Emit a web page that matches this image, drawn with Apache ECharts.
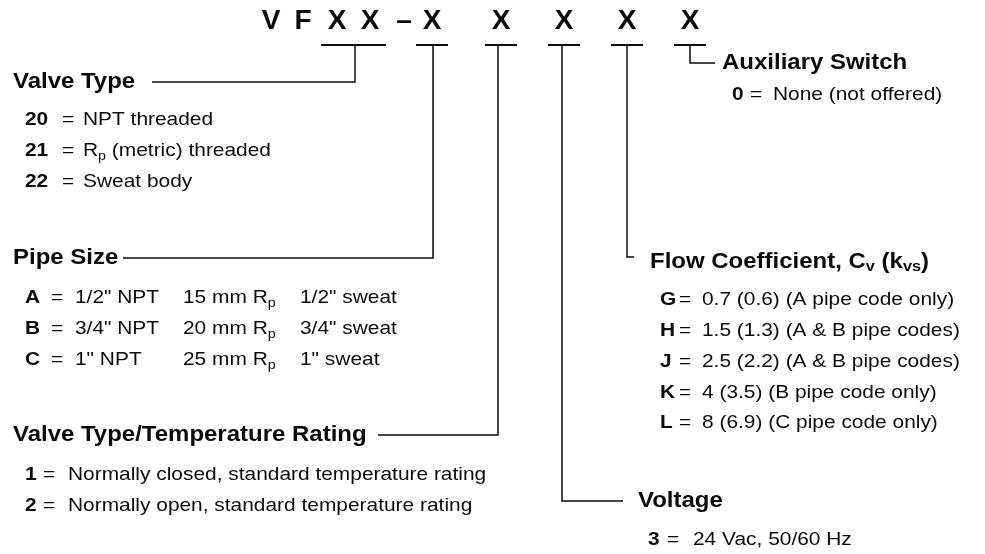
<!DOCTYPE html>
<html lang="en">
<head>
  <meta charset="UTF-8">
  <title>VFXX ordering code</title>
  <script src="https://cdn.jsdelivr.net/npm/echarts@6/dist/echarts.min.js"></script>
</head>
<body style="margin:0;background:#fff;">
  <div id="main" style="width:985px;height:554px;"></div>
  <script type="text/javascript">
    // characters of the part number
    var codeChars = ['V', 'F', 'X', 'X', '–', 'X', 'X', 'X', 'X', 'X'];

    var sectionTitles = ['Valve Type', 'Pipe Size', 'Valve Type/Temperature Rating', 'Voltage',
      'Flow Coefficient, C{ts|v} (k{ts|vs})', 'Auxiliary Switch'];

    var valveCodes = ['20', '21', '22'];
    var valveDesc = ['NPT threaded', 'R{s|p} (metric) threaded', 'Sweat body'];

    var pipeCodes = ['A', 'B', 'C'];
    var pipeNpt = ['1/2" NPT', '3/4" NPT', '1" NPT'];
    var pipeMetric = ['15 mm R{s|p}', '20 mm R{s|p}', '25 mm R{s|p}'];
    var pipeSweat = ['1/2" sweat', '3/4" sweat', '1" sweat'];

    var ratingCodes = ['1', '2'];
    var ratingDesc = ['Normally closed, standard temperature rating', 'Normally open, standard temperature rating'];

    var voltageCodes = ['3'];
    var voltageDesc = ['24 Vac, 50/60 Hz'];

    var flowCodes = ['G', 'H', 'J', 'K', 'L'];
    var flowDesc = ['0.7 (0.6) (A pipe code only)', '1.5 (1.3) (A & B pipe codes)', '2.5 (2.2) (A & B pipe codes)',
      '4 (3.5) (B pipe code only)', '8 (6.9) (C pipe code only)'];

    var auxCodes = ['0'];
    var auxDesc = ['None (not offered)'];

    // ---- layout (axis units = pixels of the 985x554 picture) ----
    var FONT = '"Liberation Sans", Arial, Helvetica, sans-serif';
    var codeX = [271, 303, 337, 370, 404, 432, 501, 564, 627, 690];
    var codeY = 21, underY = 45;
    var groups = [[2, 3], [5], [6], [7], [8], [9]];
    var stemX = [355, 433, 498, 562, 627, 690];
    var layout = [
      { titleX: 13, titleY: 82, lineEnd: 152, cx: 25, eqX: 62, descX: 83, rowY: 120, step: 31 },
      { titleX: 13, titleY: 258, lineEnd: 123, cx: 25, eqX: 51, descX: 75, rowY: 298, step: 31, cols: [183, 300] },
      { titleX: 13, titleY: 435, lineEnd: 378, cx: 25, eqX: 43, descX: 68, rowY: 475, step: 31 },
      { titleX: 638, titleY: 501, lineEnd: 623, cx: 648, eqX: 667, descX: 693, rowY: 540, step: 31 },
      { titleX: 650, titleY: 262, lineY: 257, lineEnd: 634, cx: 660, eqX: 679, descX: 702, rowY: 300, step: 30.8 },
      { titleX: 722, titleY: 63, lineEnd: 715, cx: 732, eqX: 750, descX: 773, rowY: 95, step: 31 }
    ];

    var sectionCodes = [valveCodes, pipeCodes, ratingCodes, voltageCodes, flowCodes, auxCodes];
    var sectionDesc = [valveDesc, pipeNpt, ratingDesc, voltageDesc, flowDesc, auxDesc];
    var extraCols = { 1: [pipeMetric, pipeSweat] };

    var INK = '#0a0a0a';
    var richSub = {
      s: { fontSize: 13, fontFamily: FONT, fontWeight: 'normal', fill: INK, padding: [10, 0, 0, 0] },
      ts: { fontSize: 15, fontFamily: FONT, fontWeight: 'bold', fill: INK, padding: [9, 0, 0, 0] }
    };

    // text marks
    var marks = [];
    function addMark(x, y, text, size, bold, sx, align) {
      marks.push({ x: x, y: y, text: text, size: size, bold: bold, sx: sx, align: align || 'left' });
    }
    codeChars.forEach(function (c, i) { addMark(codeX[i], codeY, c, 28, true, 1, 'center'); });
    sectionTitles.forEach(function (t, k) {
      var L = layout[k];
      addMark(L.titleX, L.titleY, t, 22, true, 1.09);
      sectionCodes[k].forEach(function (code, r) {
        var y = L.rowY + r * L.step;
        addMark(L.cx, y, code, 19, true, 1.1);
        addMark(L.eqX, y, '=', 19, false, 1.1);
        addMark(L.descX, y, sectionDesc[k][r], 19, false, 1.1);
        if (extraCols[k]) {
          extraCols[k].forEach(function (col, c) { addMark(L.cols[c], y, col[r], 19, false, 1.1); });
        }
      });
    });

    // connector lines
    var paths = [];
    groups.forEach(function (g, k) {
      var half = 16;
      paths.push({ w: 2, pts: [[codeX[g[0]] - half, underY], [codeX[g[g.length - 1]] + half, underY]] });
      var L = layout[k];
      var ly = L.lineY || L.titleY;
      paths.push({ w: 1.5, pts: [[stemX[k], underY], [stemX[k], ly], [L.lineEnd, ly]] });
    });

    var myChart = echarts.init(document.getElementById('main'));
    var option = {
      backgroundColor: '#fff',
      animation: false,
      grid: { left: 0, right: 0, top: 0, bottom: 0 },
      xAxis: { type: 'value', min: 0, max: 985, show: false },
      yAxis: { type: 'value', min: 0, max: 554, inverse: true, show: false },
      series: [
        {
          type: 'custom',
          clip: false,
          data: paths.map(function (p, i) { return [p.pts[0][0], p.pts[0][1], i]; }),
          renderItem: function (params, api) {
            var p = paths[api.value(2)];
            return {
              type: 'polyline',
              shape: { points: p.pts.map(function (q) { return api.coord(q); }) },
              style: { stroke: INK, lineWidth: p.w, fill: null }
            };
          }
        },
        {
          type: 'custom',
          clip: false,
          data: marks.map(function (m, i) { return [m.x, m.y, i]; }),
          renderItem: function (params, api) {
            var m = marks[api.value(2)];
            var pt = api.coord([api.value(0), api.value(1)]);
            return {
              type: 'text',
              x: pt[0],
              y: pt[1],
              scaleX: m.sx,
              style: {
                text: m.text,
                fill: INK,
                fontFamily: FONT,
                fontSize: m.size,
                fontWeight: m.bold ? 'bold' : 'normal',
                align: m.align,
                verticalAlign: 'middle',
                rich: richSub
              }
            };
          }
        }
      ]
    };
    myChart.setOption(option);
  </script>
</body>
</html>
